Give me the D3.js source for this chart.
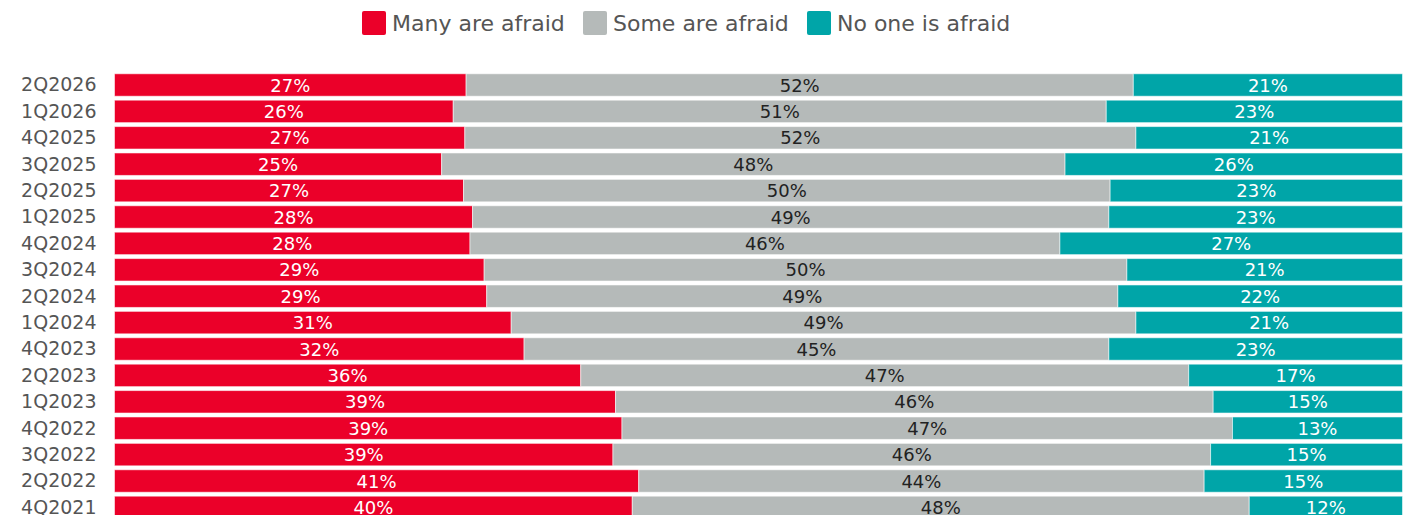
<!DOCTYPE html>
<meta charset="utf-8">
<head>
<script src="https://cdnjs.cloudflare.com/ajax/libs/d3/7.8.5/d3.min.js"></script>
<style>
	body { margin: 0; background: #fff; }
	svg { display: block; font-family: "DejaVu Sans", sans-serif; }
</style>
</head>
<body>
<div id="chart"></div>
<script>

const width = 1407,
	height = 515,
	margin = {top: 71.8, right: 4.5, bottom: 0, left: 114.5}

// quarters, top to bottom
const quarters = ['2Q2026', '1Q2026', '4Q2025', '3Q2025', '2Q2025', '1Q2025', '4Q2024', '3Q2024',
	'2Q2024', '1Q2024', '4Q2023', '2Q2023', '1Q2023', '4Q2022', '3Q2022', '2Q2022', '4Q2021']

const seriesNames = ['Many are afraid', 'Some are afraid', 'No one is afraid']
const seriesColors = ['#EB0029', '#B5BAB9', '#00A5A8']
const labelColors = ['#fff', '#222', '#fff']

// shares in percent
const manyAfraid = [27.3, 26.3, 27.2, 25.4, 27.1, 27.8, 27.6, 28.7, 28.9, 30.8, 31.8, 36.2, 38.9, 39.4, 38.7, 40.7, 40.2]
const someAfraid = [51.8, 50.7, 52.1, 48.4, 50.2, 49.4, 45.8, 49.9, 49.0, 48.5, 45.4, 47.2, 46.4, 47.4, 46.4, 43.9, 47.9]
const noneAfraid = [20.9, 23.0, 20.7, 26.2, 22.7, 22.8, 26.6, 21.4, 22.1, 20.7, 22.8, 16.6, 14.7, 13.2, 14.9, 15.4, 11.9]

const data = quarters.map((q, i) => ({
	quarter: q,
	'Many are afraid': manyAfraid[i],
	'Some are afraid': someAfraid[i],
	'No one is afraid': noneAfraid[i]
}))

const stack = d3.stack().keys(seriesNames)(data)

const rowStep = 26.4
const plotW = width - margin.left - margin.right

const x = d3.scaleLinear()
	.domain([0, 100])
	.range([margin.left, margin.left + plotW])

const y = d3.scaleBand()
	.domain(quarters)
	.range([margin.top, margin.top + rowStep * quarters.length])
	.paddingInner(0.15)
	.paddingOuter(0.075)

const color = d3.scaleOrdinal().domain(seriesNames).range(seriesColors)
const labelColor = d3.scaleOrdinal().domain(seriesNames).range(labelColors)

const svg = d3.select('#chart').append('svg')
	.attr('width', width)
	.attr('height', height)

////////////////////////////////////
// BARS
////////////////////////////////////

const layers = svg.selectAll('.layer')
	.data(stack)
	.enter().append('g')
		.attr('class', 'layer')
		.attr('fill', d => color(d.key))

layers.selectAll('rect')
	.data(d => d)
	.enter().append('rect')
		.attr('x', d => x(d[0]))
		.attr('y', d => y(d.data.quarter))
		.attr('width', d => x(d[1]) - x(d[0]))
		.attr('height', y.bandwidth())
		.attr('stroke', '#fff')
		.attr('stroke-opacity', 0.55)
		.attr('stroke-width', 1)

layers.selectAll('text')
	.data(d => d.map(v => Object.assign(v, {key: d.key})))
	.enter().append('text')
		.attr('x', d => (x(d[0]) + x(d[1])) / 2)
		.attr('y', d => y(d.data.quarter) + y.bandwidth() / 2)
		.attr('text-anchor', 'middle')
		.attr('dominant-baseline', 'central')
		.attr('font-size', 18)
		.attr('fill', d => labelColor(d.key))
		.text(d => Math.round(d[1] - d[0]) + '%')

////////////////////////////////////
// Y AXIS
////////////////////////////////////

const yAxis = svg.append('g')
	.attr('transform', `translate(${margin.left - 18}, 0)`)
	.call(d3.axisLeft(y).tickSize(0).tickPadding(0))

yAxis.select('.domain').remove()
yAxis.selectAll('text')
	.attr('font-size', 19)
	.attr('font-family', '"DejaVu Sans", sans-serif')
	.attr('fill', '#555')
	.attr('dy', '0.34em')

////////////////////////////////////
// LEGEND
////////////////////////////////////

const legendX = [362, 583, 807]

const legend = svg.append('g').attr('class', 'legend')
	.selectAll('g')
	.data(seriesNames)
	.enter().append('g')
		.attr('transform', (d, i) => `translate(${legendX[i]}, 11)`)

legend.append('rect')
	.attr('width', 24)
	.attr('height', 24)
	.attr('rx', 2)
	.attr('fill', d => color(d))

legend.append('text')
	.attr('x', 30)
	.attr('y', 12)
	.attr('dominant-baseline', 'central')
	.attr('font-size', 22)
	.attr('fill', '#555')
	.text(d => d)

</script>
</body>
